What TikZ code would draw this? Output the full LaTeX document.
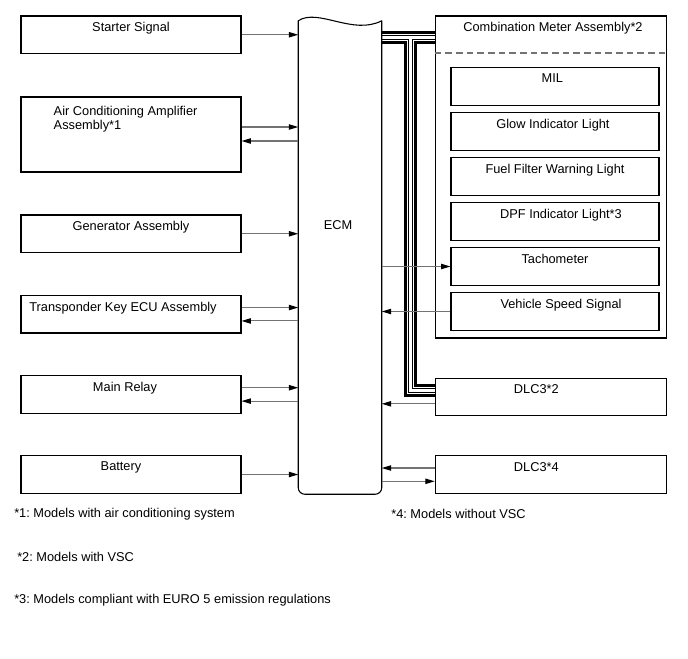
\documentclass[tikz,border=0pt]{standalone}
\usepackage{fontspec}
\setmainfont{Liberation Sans}
\usetikzlibrary{arrows.meta,calc,backgrounds}
\frenchspacing
\begin{document}
\begin{tikzpicture}[x=0.75pt,y=-0.75pt,font=\fontsize{9.6}{10.5}\selectfont,
  blk/.style={draw,line width=0.8pt,inner sep=0pt,minimum width=165pt,minimum height=28.1pt},
  sub/.style={blk,minimum width=156pt,minimum height=28.4pt},
  lbl/.style={anchor=north,inner sep=0pt,yshift=-5pt},
  sig/.style={draw=black!55,line width=0.8pt,-{Triangle[length=7pt,width=4pt,color=black]}},
  note/.style={anchor=west,inner sep=0pt}]
\useasboundingbox (0,0) rectangle (688,658);
%left blocks
\node[blk,label={[lbl]north:Starter Signal}] (st) at (131,34.75) {};
\node[blk,minimum height=56.25pt,label={[lbl,anchor=north west,align=left,xshift=24.75pt,yshift=-1.75pt]north west:Air Conditioning Amplifier\\Assembly*1}] (ac) at (131,134.5) {};
\node[blk,label={[lbl]north:Generator Assembly}] (gen) at (131,233.75) {};
\node[blk,label={[lbl,xshift=-6pt]north:Transponder Key ECU Assembly}] (tk) at (131,314.25) {};
\node[blk,label={[lbl,xshift=-4.5pt]north:Main Relay}] (mr) at (131,394.5) {};
\node[blk,label={[lbl,xshift=-7.5pt]north:Battery}] (bat) at (131,474.5) {};
%ECM
\node[minimum width=62.25pt,minimum height=354.75pt,inner sep=0pt] (ecm) at (340,257.5) {};
\draw[line width=0.8pt,rounded corners=5pt] (ecm.north west) -- (ecm.south west) -- (ecm.south east) -- (ecm.north east);
\draw[line width=0.8pt] (ecm.north west) .. controls +(20,-13) and +(-29,15) .. (ecm.north east);
\node (ecmlbl) at ($(ecm.center)+(-2,-32.5)$) {ECM};
%combination meter
\node[blk,minimum width=173.6pt,minimum height=241.5pt,label={[lbl,xshift=1.5pt]north:Combination Meter Assembly*2}] (meter) at (551,177) {};
\draw[black!55,line width=0.8pt,dash pattern=on 5pt off 3pt] ($(meter.north west)+(0,37.5)$) -- ($(meter.north east)+(0,37.5)$);
\foreach \n/\y/\s/\t in {mil/86.7/-2/MIL,glow/131.7/-1.5/Glow Indicator Light,fuel/176.5/0/Fuel Filter Warning Light,dpf/221.5/4.5/DPF Indicator Light*3,tach/266.5/0/Tachometer,vss/311.5/4.5/Vehicle Speed Signal}{
\node[sub,label={[lbl,xshift=\s pt]north:\t}] (\n) at (555,\y) {};
}
%DLC3
\node[blk,minimum width=173.6pt,label={[lbl,xshift=-11pt]north:DLC3*2}] (dlcA) at (551,396.8) {};
\node[blk,minimum width=173.6pt,label={[lbl,xshift=-11pt]north:DLC3*4}] (dlcB) at (551,474.5) {};
%signals left
\draw[sig] (st.east) -- (st.east -| ecm.west);
\draw[sig] ($(ac.east)+(0,-7.5)$) -- ($(ac.east -| ecm.west)+(0,-7.5)$);
\draw[sig] ($(ac.east -| ecm.west)+(0,6.5)$) -- ($(ac.east)+(0,6.5)$);
\draw[sig] (gen.east) -- (gen.east -| ecm.west);
\draw[sig] ($(tk.east)+(0,-6.7)$) -- ($(tk.east -| ecm.west)+(0,-6.7)$);
\draw[sig] ($(tk.east -| ecm.west)+(0,6.7)$) -- ($(tk.east)+(0,6.7)$);
\draw[sig] ($(mr.east)+(0,-6.8)$) -- ($(mr.east -| ecm.west)+(0,-6.8)$);
\draw[sig] ($(mr.east -| ecm.west)+(0,6.6)$) -- ($(mr.east)+(0,6.6)$);
\draw[sig] (bat.east) -- (bat.east -| ecm.west);
%signals right
\draw[sig] (tach.west -| ecm.east) -- (tach.west);
\draw[sig] (vss.west) -- (vss.west -| ecm.east);
\draw[sig] ($(dlcA.west)+(0,7)$) -- ($(dlcA.west -| ecm.east)+(0,7)$);
\draw[sig] ($(dlcB.west)+(0,-6.5)$) -- ($(dlcB.west -| ecm.east)+(0,-6.5)$);
\draw[sig] ($(dlcB.west -| ecm.east)+(0,6.8)$) -- ($(dlcB.west)+(0,6.8)$);
%bus
\coordinate (busR) at ($(meter.north west)+(0,22)$);
\coordinate (busT) at ($(busR)+(-24.5,0)$);
\coordinate (busD) at ($(dlcA.west)+(0,-6.5)$);
\begin{scope}[on background layer]
\foreach \w/\c in {9.4/black,4.9/white,3.4/black,1.9/white}{
\draw[line width=\w pt,\c] (ecm.east |- busR) -- (busR) (busT) -- (busT |- busD) -- (busD);
}
\end{scope}
%notes
\node[note] (n1) at (14,514) {*1: Models with air conditioning system};
\node[note] (n4) at (391,514) {*4: Models without VSC};
\node[note] (n2) at (17,557) {*2: Models with VSC};
\node[note] (n3) at (14,600) {*3: Models compliant with EURO 5 emission regulations};
\end{tikzpicture}
\end{document}
